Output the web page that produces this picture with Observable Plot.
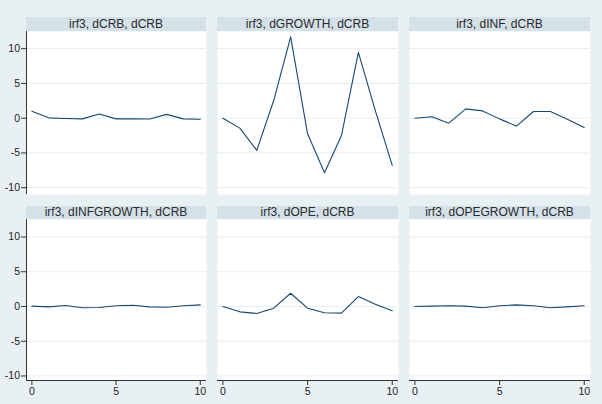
<!DOCTYPE html>
<html><head><meta charset="utf-8">
<script src="https://cdn.jsdelivr.net/npm/d3@7"></script>
<script src="https://cdn.jsdelivr.net/npm/@observablehq/plot@0.6"></script>
<style>
body{margin:0;}
#wrap{position:relative;width:602px;height:404px;background:#e9f0f3;overflow:hidden;font-family:"Liberation Sans",Arial,sans-serif;}
.hdr{position:absolute;background:#d5e1e9;color:#2a2a2a;font-size:12px;text-align:center;line-height:14px;white-space:nowrap;}
.pn{position:absolute;}
</style></head><body><div id="wrap"></div>
<script>
const steps = [0,1,2,3,4,5,6,7,8,9,10];
const titles = ["irf3, dCRB, dCRB","irf3, dGROWTH, dCRB","irf3, dINF, dCRB",
                "irf3, dINFGROWTH, dCRB","irf3, dOPE, dCRB","irf3, dOPEGROWTH, dCRB"];
const irfCRB       = [1.0, 0.05, -0.05, -0.1, 0.6, -0.1, -0.1, -0.12, 0.55, -0.1, -0.15];
const irfGROWTH    = [0, -1.43, -4.64, 2.54, 11.7, -2.25, -7.85, -2.5, 9.47, 1.1, -6.8];
const irfINF       = [0, 0.2, -0.72, 1.34, 1.05, -0.1, -1.15, 0.96, 0.96, -0.14, -1.34];
const irfINFGROWTH = [0.05, -0.05, 0.14, -0.19, -0.14, 0.1, 0.19, -0.05, -0.1, 0.1, 0.24];
const irfOPE       = [0, -0.77, -1.0, -0.24, 1.91, -0.24, -0.9, -0.96, 1.43, 0.33, -0.62];
const irfOPEGROWTH = [0, 0.05, 0.1, 0.05, -0.19, 0.1, 0.24, 0.1, -0.19, -0.05, 0.1];
const series = [irfCRB, irfGROWTH, irfINF, irfINFGROWTH, irfOPE, irfOPEGROWTH];
const yTicks = [-10,-5,0,5,10];
const xTicks = [0,5,10];

const wrap = document.getElementById("wrap");
const colLeft = [26, 217, 409];
const colWidth = [180, 181, 181];
const rowHdrTop = [17, 205.5];
const rowPlotTop = [31, 219];
const rowPlotH = [163, 161];
const rowYDomain = [[-10.98, 12.47], [-10.65, 12.52]];
const xDomain = [-0.32, 10.37];
const fmt = d => String(d);

series.forEach((vals, i) => {
  const r = Math.floor(i / 3), c = i % 3;
  const data = steps.map((s, k) => ({step: s, value: vals[k]}));
  const ml = c === 0 ? 26 : 0;
  const mb = r === 1 ? 24 : 0;
  const yDom = rowYDomain[r];
  const marks = [
    Plot.frame({fill: "white", stroke: null}),
    Plot.gridY(yTicks, {stroke: "#e6edf1", strokeOpacity: 1}),
    Plot.line(data, {x: "step", y: "value", stroke: "#1a476f", strokeWidth: 1.1})
  ];
  if (c === 0) {
    marks.push(Plot.axisY({ticks: yTicks, tickFormat: fmt, tickSize: 5, tickPadding: 1.5, label: null, stroke: "#333", fill: "#222"}));
    marks.push(Plot.ruleX([xDomain[0]], {stroke: "#333", strokeWidth: 1}));
  }
  if (r === 1) {
    marks.push(Plot.axisX({ticks: xTicks, tickFormat: fmt, tickSize: 5, tickPadding: 2, label: null, stroke: "#333", fill: "#222"}));
    marks.push(Plot.ruleY([yDom[0]], {stroke: "#333", strokeWidth: 1}));
  }
  const chart = Plot.plot({
    width: ml + colWidth[c], height: rowPlotH[r] + mb,
    marginLeft: ml, marginRight: 0, marginTop: 0, marginBottom: mb,
    x: {domain: xDomain, axis: null},
    y: {domain: yDom, axis: null},
    style: {background: "transparent", fontFamily: "'Liberation Sans', Arial, sans-serif", fontSize: "10.5px", color: "#222", overflow: "visible"},
    marks
  });
  chart.classList.add("pn");
  chart.style.left = (colLeft[c] - ml) + "px";
  chart.style.top = rowPlotTop[r] + "px";
  wrap.appendChild(chart);
  const h = document.createElement("div");
  h.className = "hdr";
  h.style.left = colLeft[c] + "px";
  h.style.width = colWidth[c] + "px";
  h.style.top = rowHdrTop[r] + "px";
  h.style.height = (rowPlotTop[r] - rowHdrTop[r]) + "px";
  h.style.lineHeight = (rowPlotTop[r] - rowHdrTop[r]) + "px";
  h.textContent = titles[i];
  wrap.appendChild(h);
});
</script></body></html>
